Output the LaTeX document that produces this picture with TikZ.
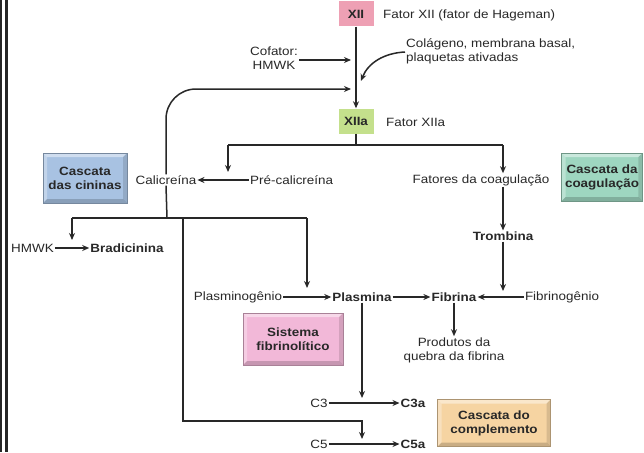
\documentclass[tikz,border=0pt]{standalone}
\usepackage{fontspec}
\setmainfont{Liberation Sans}[FakeStretch=1.12]
\usetikzlibrary{arrows.meta}
\definecolor{txt}{RGB}{40,40,40}
\definecolor{pinkxii}{RGB}{238,160,180}
\definecolor{greenxiia}{RGB}{196,224,140}
\definecolor{bluebox}{RGB}{168,194,226}
\definecolor{tealbox}{RGB}{158,214,192}
\definecolor{pinkbox}{RGB}{242,184,216}
\definecolor{peachbox}{RGB}{246,212,162}
\newcommand\labfont{\fontsize{12}{14}\selectfont}
\tikzset{
  lab/.style={inner sep=1pt, text=txt, font=\labfont, align=center},
  blab/.style={lab, font=\labfont\bfseries},
  ln/.style={line width=1.5pt, draw=txt},
  arr/.style={ln, -{Stealth[length=7pt,width=6pt]}},
  tagbox/.style={fill=#1, draw=none, minimum height=25pt, inner sep=2pt, text=txt, font=\labfont\bfseries},
  bevel/.style={fill=#1, draw=#1!70!black, line width=0.6pt, text=txt, font=\labfont\bfseries, align=center,
    path picture={
      \fill[white,opacity=0.45] (path picture bounding box.north west) -- (path picture bounding box.north east)
        -- ([shift={(-4pt,-4pt)}]path picture bounding box.north east) -- ([shift={(4pt,-4pt)}]path picture bounding box.north west) -- cycle;
      \fill[white,opacity=0.3] (path picture bounding box.north west) -- (path picture bounding box.south west)
        -- ([shift={(4pt,4pt)}]path picture bounding box.south west) -- ([shift={(4pt,-4pt)}]path picture bounding box.north west) -- cycle;
      \fill[black,opacity=0.18] (path picture bounding box.south west) -- (path picture bounding box.south east)
        -- ([shift={(-4pt,4pt)}]path picture bounding box.south east) -- ([shift={(4pt,4pt)}]path picture bounding box.south west) -- cycle;
      \fill[black,opacity=0.12] (path picture bounding box.north east) -- (path picture bounding box.south east)
        -- ([shift={(-4pt,4pt)}]path picture bounding box.south east) -- ([shift={(-4pt,-4pt)}]path picture bounding box.north east) -- cycle;
    }}
}
\begin{document}
\begin{tikzpicture}[x=1pt,y=-1pt]
\useasboundingbox (0,0) rectangle (644,452);
\fill[white] (0,0) rectangle (644,452);
% left border lines
\fill[black!85] (0,0) rectangle (1.7,452);
\fill[black!85] (5,0) rectangle (8,452);

% top
\node[tagbox=pinkxii, minimum width=35pt] (xii) at (356,14) {XII};
\node[lab, anchor=west] (fxii) at (382,15) {Fator XII (fator de Hageman)};
\node[tagbox=greenxiia, minimum width=35pt] (xiia) at (356,121) {XIIa};
\node[lab, anchor=west] (fxiia) at (385,122) {Fator XIIa};
\node[lab] (cof) at (274,58) {Cofator:\\HMWK};
\node[lab, anchor=west, align=left] (col) at (405,51) {Colágeno, membrana basal,\\plaquetas ativadas};

\coordinate (cofend) at (351,60);
\coordinate (colend) at (361,81);
\coordinate (fbend) at (351,89);
\draw[arr] (xii.south) -- (xiia.north);
\draw[arr] (cof.east |- cofend) -- (cofend);
\draw[arr] (col.west |- 0,52) .. controls (384,53) and (368,63) .. (colend);

% kallikrein
\node[lab] (cal) at (166,180) {Calicreína};
\node[lab, anchor=west] (pre) at (249,180) {Pré-calicreína};
\node[lab] (fat) at (481,180) {Fatores da coagulação};
\node[bevel=bluebox, minimum width=84pt, minimum height=50pt] (bcin) at (85,178) {Cascata\\das cininas};
\node[bevel=tealbox, minimum width=78pt, minimum height=48pt] (bcoa) at (602,177) {Cascata da\\coagulação};

\draw[arr, rounded corners=30pt] (cal.north) |- (fbend);
\draw[arr] (pre.west) -- (cal.east);

\coordinate (j1) at (356,145);
\coordinate (jl) at (228,145);
\coordinate (jr) at (503,145);
\draw[ln] (xiia.south) -- (j1);
\draw[ln] (jl) -- (jr);
\draw[arr] (jl) -- (228,172);
\draw[arr] (jr) -- (fat.north -| jr);

\node[blab] (tromb) at (503,236) {Trombina};
\draw[arr] (fat.south -| tromb) -- (tromb.north);

% below calicreina
\coordinate (k0) at (167,218);
\coordinate (kl) at (72,218);
\coordinate (kr) at (307,218);
\coordinate (kc) at (183,218);
\draw[ln] (cal.south) -- (k0);
\draw[ln] (kl) -- (kr);
\node[lab, anchor=west] (hmwk) at (10,248) {HMWK};
\node[blab] (brad) at (127,248) {Bradicinina};
\draw[arr] (hmwk.east) -- (brad.west);
\draw[arr] (kl) -- (72,240);
\draw[arr] (kr) -- (307,288);

% fibrinolytic row
\node[lab] (plg) at (238,297) {Plasminogênio};
\node[blab] (pla) at (362,297) {Plasmina};
\node[blab] (fib) at (454,297) {Fibrina};
\node[lab] (fbg) at (562,297) {Fibrinogênio};
\draw[arr] (plg.east) -- (pla.west);
\draw[arr] (pla.east) -- (fib.west);
\draw[arr] (fbg.west) -- (fib.east);
\draw[arr] (tromb.south) -- (503,291);
\node[lab] (prod) at (454,350) {Produtos da\\quebra da fibrina};
\draw[arr] (fib.south) -- (prod.north);
\node[bevel=pinkbox, minimum width=100pt, minimum height=52pt] (bfib) at (293,339) {Sistema\\fibrinolítico};

% complement
\node[lab] (c3) at (319,403) {C3};
\node[blab] (c3a) at (413,403) {C3a};
\node[lab] (c5) at (319,444) {C5};
\node[blab] (c5a) at (413,444) {C5a};
\draw[arr] (c3.east) -- (c3a.west);
\draw[arr] (c5.east) -- (c5a.west);
\draw[arr] (pla.south) -- (362,398);
\draw[arr] (kc) -- (183,421) -- (362,421) -- (362,439);
\node[bevel=peachbox, minimum width=113pt, minimum height=47pt] (bcomp) at (494,423) {Cascata do\\complemento};
\end{tikzpicture}
\end{document}
